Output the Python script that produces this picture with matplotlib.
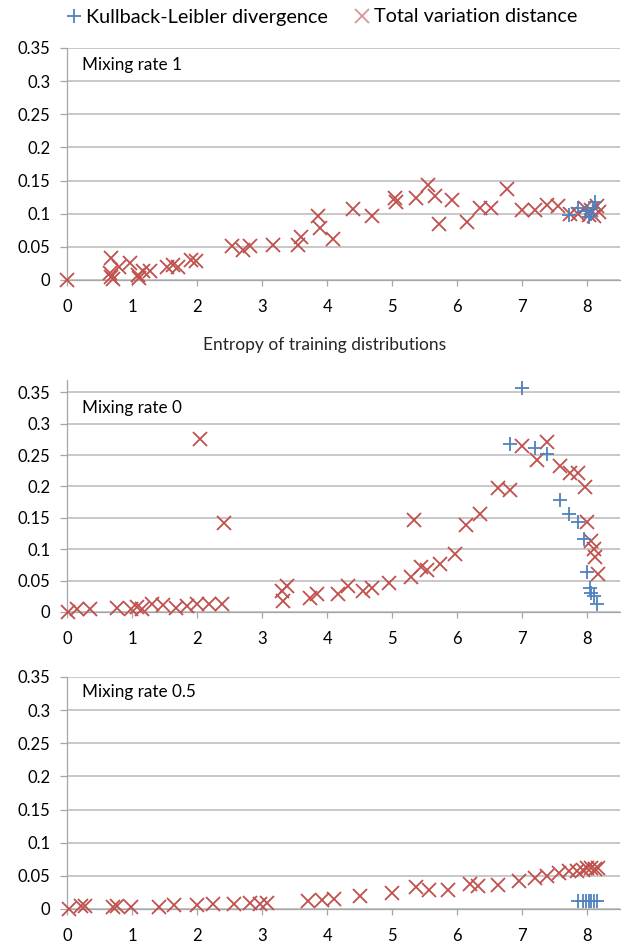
import matplotlib
matplotlib.use("Agg")
import matplotlib.pyplot as plt
from matplotlib.lines import Line2D

plt.rcParams['font.family'] = ['Lato', 'DejaVu Sans']

red = "#C0504D"
blue = "#4F81BD"
grid_col = "#BFBFBF"
axis_col = "#A6A6A6"

# mixing rate 1
tv1_x = [0, 0.68, 0.66, 0.71, 0.68, 0.80, 0.97, 1.11, 1.09, 1.17, 1.28, 1.54, 1.63, 1.70,
         1.91, 1.99, 2.53, 2.71, 2.81, 3.16, 3.55, 3.60, 3.86, 3.89, 4.09, 4.39, 4.69,
         5.04, 5.06, 5.37, 5.55, 5.66, 5.72, 5.92, 6.15, 6.35, 6.52, 6.77, 7.00, 7.19,
         7.38, 7.54, 7.73, 7.86, 7.96, 8.02, 8.05, 8.10, 8.14, 8.17]
tv1_y = [0, 0.033, 0.010, 0.001, 0.005, 0.020, 0.025, 0.003, 0.008, 0.013, 0.013, 0.020,
         0.023, 0.020, 0.030, 0.028, 0.051, 0.045, 0.051, 0.053, 0.053, 0.065, 0.096,
         0.078, 0.062, 0.107, 0.097, 0.123, 0.118, 0.123, 0.143, 0.126, 0.085, 0.121,
         0.087, 0.109, 0.109, 0.138, 0.106, 0.106, 0.113, 0.111, 0.099, 0.100, 0.108,
         0.098, 0.106, 0.096, 0.111, 0.103]
kl1_x = [7.72, 7.86, 7.98, 8.02, 8.05, 8.11, 8.08]
kl1_y = [0.098, 0.108, 0.104, 0.095, 0.100, 0.117, 0.108]

# mixing rate 0
tv0_x = [0.02, 0.15, 0.35, 0.77, 0.99, 1.07, 1.15, 1.31, 1.48, 1.67, 1.85, 2.00, 2.19,
         2.38, 2.04, 2.42, 3.30, 3.32, 3.38, 3.73, 3.84, 4.16, 4.32, 4.55, 4.69, 4.95,
         5.29, 5.33, 5.44, 5.54, 5.74, 5.96, 6.14, 6.35, 6.63, 6.81, 7.00, 7.22, 7.38,
         7.58, 7.73, 7.85, 7.96, 8.00, 8.06, 8.10, 8.12, 8.16]
tv0_y = [0, 0.004, 0.005, 0.006, 0.005, 0.008, 0.005, 0.012, 0.011, 0.006, 0.009, 0.013,
         0.013, 0.013, 0.276, 0.141, 0.034, 0.017, 0.041, 0.023, 0.028, 0.029, 0.041,
         0.033, 0.038, 0.046, 0.056, 0.147, 0.072, 0.067, 0.076, 0.092, 0.139, 0.156,
         0.198, 0.194, 0.265, 0.242, 0.270, 0.232, 0.221, 0.221, 0.199, 0.143, 0.113,
         0.100, 0.087, 0.061]
kl0_x = [7.00, 6.81, 7.20, 7.38, 7.58, 7.71, 7.85, 7.94, 8.00, 8.04, 8.06, 8.10, 8.15]
kl0_y = [0.356, 0.268, 0.261, 0.251, 0.179, 0.156, 0.144, 0.117, 0.063, 0.038, 0.031,
         0.026, 0.012]

# mixing rate 0.5
tv5_x = [0.03, 0.22, 0.28, 0.71, 0.77, 0.99, 1.42, 1.64, 2.00, 2.25, 2.56, 2.81, 2.96,
         3.08, 3.70, 3.92, 4.10, 4.50, 5.00, 5.37, 5.57, 5.86, 6.19, 6.32, 6.63, 6.94,
         7.19, 7.37, 7.56, 7.71, 7.84, 7.93, 7.99, 8.05, 8.11, 8.16]
tv5_y = [0, 0.004, 0.004, 0.003, 0.004, 0.003, 0.003, 0.006, 0.006, 0.007, 0.007, 0.009,
         0.007, 0.009, 0.012, 0.013, 0.015, 0.019, 0.024, 0.033, 0.029, 0.028, 0.037,
         0.034, 0.036, 0.042, 0.047, 0.049, 0.054, 0.057, 0.057, 0.059, 0.062, 0.062,
         0.060, 0.062]
kl5_x = [7.85, 7.93, 7.98, 8.02, 8.06, 8.10, 8.14]
kl5_y = [0.0126, 0.0126, 0.0126, 0.0126, 0.0126, 0.0126, 0.0126]

panels = [
    ("Mixing rate 1", kl1_x, kl1_y, tv1_x, tv1_y, 0.35, 0.7034, 0.927),
    ("Mixing rate 0", kl0_x, kl0_y, tv0_x, tv0_y, 0.3695, 0.3517, 0.879),
    ("Mixing rate 0.5", kl5_x, kl5_y, tv5_x, tv5_y, 0.35, 0.0371, 0.935),
]

fig = plt.figure(figsize=(6.31, 9.44), dpi=100)

for label, kx, ky, tx, ty, ytop, bottom, label_y in panels:
    ax = fig.add_axes([0.1062, bottom, 0.8764, 0.2458])
    ax.plot(tx, ty, linestyle="none", marker="x", markersize=9.5, markeredgewidth=1.3,
            color=red, zorder=3, clip_on=False)
    ax.plot(kx, ky, linestyle="none", marker="+", markersize=10, markeredgewidth=1.3,
            color=blue, zorder=4, clip_on=False)
    ax.set_xlim(0, 8.5)
    ax.set_ylim(0, ytop)
    ax.set_xticks(range(9))
    ax.set_yticks([0, 0.05, 0.1, 0.15, 0.2, 0.25, 0.3, 0.35])
    ax.set_yticklabels(["0", "0.05", "0.1", "0.15", "0.2", "0.25", "0.3", "0.35"])
    ax.yaxis.grid(True, color=grid_col, linewidth=1.2)
    ax.set_axisbelow(True)
    for s in ["top", "right"]:
        ax.spines[s].set_visible(False)
    for s in ["left", "bottom"]:
        ax.spines[s].set_color(axis_col)
        ax.spines[s].set_linewidth(0.9)
    ax.tick_params(axis="both", colors=axis_col, labelcolor="black", labelsize=12,
                   width=0.9)
    ax.tick_params(axis="y", length=5, pad=7)
    ax.tick_params(axis="x", length=4.5, pad=9)
    ax.text(0.027, label_y, label, transform=ax.transAxes, fontsize=12.3, va="center",
            ha="left")

fig.text(325 / 631, 1 - 345 / 944, "Entropy of training distributions", fontsize=12.5,
         ha="center", va="center", color="#262626")

handles = [
    Line2D([], [], linestyle="none", marker="+", markersize=10, markeredgewidth=1.3,
           color=blue),
    Line2D([], [], linestyle="none", marker="x", markersize=9.5, markeredgewidth=1.3,
           color="#D99694"),
]
fig.legend(handles, ["Kullback-Leibler divergence", "Total variation distance"],
           loc="center", bbox_to_anchor=(0.51, 1 - 17 / 944), ncol=2, frameon=False,
           fontsize=14.3, handlelength=0.8, handletextpad=0.2, columnspacing=1.3,
           borderpad=0)

fig.savefig("out.png", dpi=100)
